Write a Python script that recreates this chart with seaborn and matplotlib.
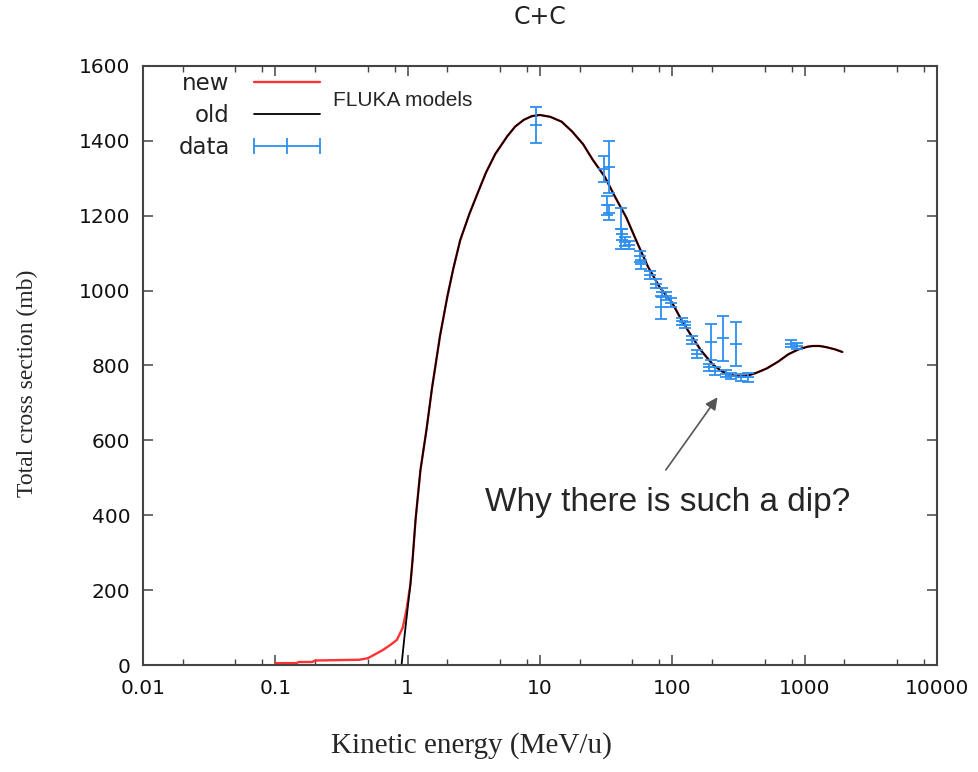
import numpy as np
import pandas as pd
import matplotlib
matplotlib.use("Agg")
import matplotlib.pyplot as plt
import matplotlib.ticker as mticker
from matplotlib.lines import Line2D
import seaborn as sns

# ------------------------------------------------------------
# C+C total cross section : FLUKA models (new / old) vs data
# ------------------------------------------------------------

# common part of both models above ~1 MeV/u (MeV/u, mb)
hi_e = [1.15, 1.25, 1.39, 1.53, 1.76, 2.0, 2.22, 2.5, 2.94, 3.4, 3.91, 4.6, 5.69,
        6.5, 7.55, 8.7, 10, 12, 14.6, 17.5, 21.2, 25, 30.9, 37, 45, 54, 65.5, 80,
        100, 118, 139, 165, 202, 235, 268, 310, 356, 430, 518, 630, 755, 900,
        1050, 1150, 1300, 1455, 1700, 1930]
hi_s = [390, 520, 629, 740, 880, 985, 1060, 1135, 1206, 1262, 1315, 1365, 1413,
        1438, 1456, 1466, 1469, 1464, 1451, 1425, 1391, 1350, 1304, 1250, 1195,
        1130, 1064, 1010, 967, 920, 880, 840, 803, 785, 776, 771, 771, 780, 792,
        810, 830, 843, 850, 852, 852, 849, 843, 836]

# model "new": low energy tail
new_e = [0.1, 0.145, 0.15, 0.19, 0.2, 0.43, 0.5, 0.65, 0.75, 0.83, 0.92, 0.98,
         1.05, 1.09] + hi_e
new_s = [5, 5, 8, 8, 12, 14, 18, 40, 55, 67, 100, 147, 215, 280] + hi_s

# model "old": sharp threshold
old_e = [0.9, 0.95, 1.0, 1.05, 1.09] + hi_e
old_s = [0, 80, 150, 215, 280] + hi_s

# experimental data
data_e = [9.3, 30.5, 33, 32, 33, 41, 42, 44, 47, 57, 58, 68, 76, 84, 82, 90, 98,
          119, 125, 140, 155, 190, 197, 210, 243, 255, 280, 304, 330, 375, 790, 880]
data_s = [1442, 1325, 1330, 1228, 1208, 1165, 1150, 1130, 1122, 1092, 1070, 1042,
          1018, 995, 955, 985, 967, 918, 908, 868, 830, 795, 863, 785, 873, 778,
          772, 857, 768, 768, 858, 852]
data_err = [48, 35, 70, 25, 20, 55, 15, 12, 10, 15, 12, 10, 12, 12, 30, 10, 12,
            10, 8, 10, 10, 10, 48, 10, 60, 10, 8, 58, 10, 12, 10, 8]

x_ticks = [0.01, 0.1, 1, 10, 100, 1000, 10000]
x_tick_labels = ["0.01", "0.1", "1", "10", "100", "1000", "10000"]
y_ticks = [0, 200, 400, 600, 800, 1000, 1200, 1400, 1600]

new_col = "#ff3333"
old_col = "black"
data_col = "#2e8fef"
frame_col = "#444444"

models = pd.concat([
    pd.DataFrame({"E": new_e, "sigma": new_s, "model": "new"}),
    pd.DataFrame({"E": old_e, "sigma": old_s, "model": "old"}),
])

sns.set_theme(style="ticks")
plt.rcParams["font.family"] = ["DejaVu Sans"]

fig = plt.figure(figsize=(9.79, 7.72), dpi=100)
ax = fig.add_axes([0.146, 0.1386, 0.811, 0.776])
ax.set_xscale("log")

sns.lineplot(data=models, x="E", y="sigma", hue="model",
             palette={"new": new_col, "old": old_col}, linewidth=1.3,
             legend=False, ax=ax, sort=False)
ax.lines[0].set_linewidth(1.7)

ax.errorbar(data_e, data_s, yerr=data_err, fmt="_", color=data_col,
            ecolor=data_col, elinewidth=1.3, capsize=4, capthick=1.3,
            markersize=9, markeredgewidth=1.3, zorder=5)

ax.set_xlim(0.01, 10000)
ax.set_ylim(0, 1600)
ax.set_xticks(x_ticks)
ax.set_xticklabels(x_tick_labels)
ax.xaxis.set_minor_locator(mticker.LogLocator(base=10, subs=[2, 5, 8], numticks=20))
ax.xaxis.set_minor_formatter(mticker.NullFormatter())
ax.set_yticks(y_ticks)

ax.tick_params(axis="both", which="both", direction="in", top=True, right=True,
               color=frame_col, labelsize=14.5, labelcolor="#111111")
ax.tick_params(axis="both", which="major", length=7, width=1.1)
ax.tick_params(axis="x", which="major", pad=10)
ax.tick_params(axis="y", which="major", pad=9)
ax.tick_params(axis="x", which="minor", length=4, width=1.0)
for sp in ax.spines.values():
    sp.set_color(frame_col)
    sp.set_linewidth(1.5)

ax.set_xlabel("Kinetic energy (MeV/u)", family=["Liberation Serif"], fontsize=21,
              va="center", ha="center")
ax.xaxis.set_label_coords(0.414, -0.134)
ax.set_ylabel("Total cross section (mb)", family=["Liberation Serif"], fontsize=17,
              va="center", ha="center")
ax.yaxis.set_label_coords(-0.145, 0.47)
ax.set_title("C+C", fontsize=17, pad=30, color="#222222")

# legend, gnuplot style (label then sample)
handles = [
    Line2D([], [], color=new_col, lw=1.7),
    Line2D([], [], color=old_col, lw=1.3),
    Line2D([], [], color=data_col, lw=1.3, marker="|", markersize=11, markeredgewidth=1.3),
]
ax.legend(handles, ["new", "old", "data"], loc="upper left", frameon=False,
          markerfirst=False, handlelength=3.5, numpoints=3, fontsize=16.5,
          labelspacing=0.4, borderaxespad=0.0, handletextpad=0.75,
          bbox_to_anchor=(0.033, 1.005), labelcolor="#222222")

ax.text(0.239, 0.943, "FLUKA models", transform=ax.transAxes, fontsize=15,
        family=["Liberation Sans"], va="center", ha="left")

ax.annotate("", xy=(226, 721), xytext=(87, 515),
            arrowprops=dict(arrowstyle="-|>", color="#555555", lw=1.2,
                            mutation_scale=18))
ax.text(92, 435, "Why there is such a dip?", fontsize=24,
        family=["Liberation Sans"], ha="center", va="center")

fig.savefig("out.png", dpi=100)
